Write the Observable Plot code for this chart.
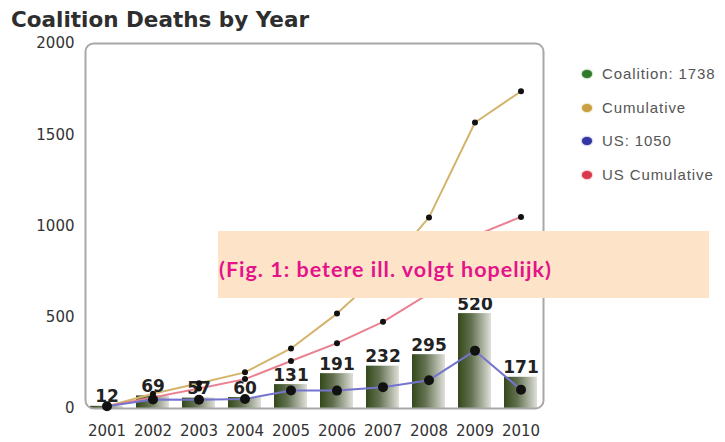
<!DOCTYPE html>
<html>
<head>
<meta charset="utf-8">
<script src="https://cdn.jsdelivr.net/npm/d3@7"></script>
<script src="https://cdn.jsdelivr.net/npm/@observablehq/plot@0.6"></script>
<style>
  html, body { margin: 0; padding: 0; background: #fff; }
  #wrap { position: relative; width: 725px; height: 442px; overflow: hidden; }
  #title { position: absolute; left: 11px; top: 7px; font: bold 21.5px "DejaVu Sans", sans-serif; color: #2e2e2e; white-space: nowrap; }
  #chart { position: absolute; left: 0; top: 35px; }
  #legend { position: absolute; left: 582px; top: 64px; font: 15px "Liberation Sans", Arial, sans-serif; color: #555; letter-spacing: 0.9px; }
  .row { position: relative; height: 33.7px; line-height: 20px; padding-left: 20px; white-space: nowrap; }
  .sw { position: absolute; left: 0; top: 6px; width: 10px; height: 8px; border-radius: 50%; }
  #note { position: absolute; left: 218px; top: 231px; width: 491px; height: 67px; background: #fde4c9; }
  #note span { position: absolute; left: 1px; top: 28px; font: bold 21.5px Lato, sans-serif; letter-spacing: 1px; color: #e5138a; line-height: 1; white-space: nowrap; }
</style>
</head>
<body>
<div id="wrap">
  <div id="title">Coalition Deaths by Year</div>
  <div id="chart"></div>
  <div id="legend"></div>
  <div id="note"><span>(Fig. 1: betere ill. volgt hopelijk)</span></div>
</div>
<script>
const years = [2001, 2002, 2003, 2004, 2005, 2006, 2007, 2008, 2009, 2010];
const coalition = [12, 69, 57, 60, 131, 191, 232, 295, 520, 171];
const cumulative = [12, 81, 138, 198, 329, 520, 752, 1047, 1567, 1738];
const us = [12, 49, 48, 52, 99, 98, 117, 155, 317, 103];
const usCumulative = [12, 61, 109, 161, 260, 358, 475, 630, 947, 1050];
const yTicks = [0, 500, 1000, 1500, 2000];
const legendLabels = ["Coalition: 1738", "Cumulative", "US: 1050", "US Cumulative"];
const legendColors = ["#2f7a2a", "#c9a044", "#3434a4", "#d83a4c"];

const rows = years.map((year, i) => ({
  year, coalition: coalition[i], cumulative: cumulative[i], us: us[i], usCumulative: usCumulative[i]
}));

const chart = Plot.plot({
  width: 725,
  height: 407,
  marginLeft: 85,
  marginRight: 182,
  marginTop: 8,
  marginBottom: 34,
  style: { fontFamily: "DejaVu Sans, sans-serif", color: "#333", background: "transparent" },
  x: { type: "band", domain: years, paddingInner: 0.28, paddingOuter: 0.1 },
  y: { domain: [0, 2000] },
  marks: [
    Plot.rectY(rows, { x: "year", y: "coalition", fill: "url(#barGrad)" }),
    Plot.frame({ stroke: "#a8a8a8", strokeWidth: 2, rx: 8 }),
    Plot.axisY({ ticks: yTicks, tickSize: 0, tickPadding: 11, fontSize: 15, label: null, tickFormat: d => String(d) }),
    Plot.axisX({ tickSize: 0, tickPadding: 17, fontSize: 15, label: null, tickFormat: d => String(d) }),
    Plot.line(rows, { x: "year", y: "cumulative", stroke: "#d4b46c", strokeWidth: 2 }),
    Plot.line(rows, { x: "year", y: "usCumulative", stroke: "#ea8090", strokeWidth: 2 }),
    Plot.line(rows, { x: "year", y: "us", stroke: "#7474cf", strokeWidth: 2 }),
    Plot.text(rows, { x: "year", y: "coalition", text: d => String(d.coalition), lineAnchor: "bottom", dy: -4, fontSize: 17, fontWeight: "bold", fill: "#222" }),
    Plot.dot(rows, { x: "year", y: "cumulative", r: 3, fill: "#111", stroke: "none" }),
    Plot.dot(rows, { x: "year", y: "usCumulative", r: 3, fill: "#111", stroke: "none" }),
    Plot.dot(rows, { x: "year", y: "us", r: 5, fill: "#111", stroke: "none" })
  ]
});

// gradient for bars
const svg = d3.select(chart);
const defs = svg.insert("defs", ":first-child");
const g = defs.append("linearGradient").attr("id", "barGrad").attr("x1", "0").attr("x2", "1").attr("y1", "0").attr("y2", "0");
g.append("stop").attr("offset", "0%").attr("stop-color", "#34491a");
g.append("stop").attr("offset", "40%").attr("stop-color", "#627150");
g.append("stop").attr("offset", "100%").attr("stop-color", "#e0e0da");

document.getElementById("chart").appendChild(chart);

const legend = document.getElementById("legend");
legendLabels.forEach((label, i) => {
  const row = document.createElement("div");
  row.className = "row";
  const sw = document.createElement("span");
  sw.className = "sw";
  sw.style.background = legendColors[i];
  sw.style.boxShadow = "0 0 2px " + legendColors[i];
  row.appendChild(sw);
  row.appendChild(document.createTextNode(label));
  legend.appendChild(row);
});
</script>
</body>
</html>
